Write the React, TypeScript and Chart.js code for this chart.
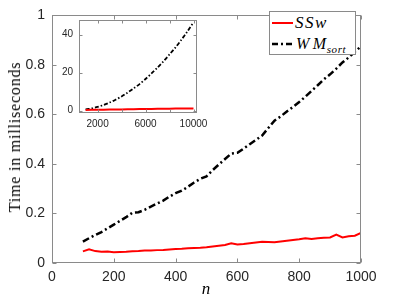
import React, { useEffect, useRef } from 'react';
import { Chart, registerables } from 'chart.js';
Chart.register(...registerables);

// ---- main plot data ----
const mainN = [100,120,140,160,180,200,220,240,260,280,300,320,340,360,380,400,420,440,460,480,500,520,540,560,580,600,620,640,660,680,700,720,740,760,780,800,820,840,860,880,900,920,940,960,980,1000];
const mainSSw = [0.047,0.055,0.048,0.045,0.046,0.043,0.044,0.045,0.047,0.048,0.050,0.050,0.052,0.053,0.055,0.057,0.058,0.060,0.061,0.062,0.064,0.067,0.070,0.073,0.080,0.075,0.077,0.080,0.083,0.086,0.085,0.084,0.087,0.090,0.093,0.096,0.100,0.097,0.100,0.102,0.103,0.115,0.103,0.108,0.110,0.122];
const mainWMsort = [0.086,0.100,0.113,0.125,0.140,0.155,0.170,0.185,0.203,0.205,0.215,0.228,0.240,0.252,0.268,0.282,0.292,0.308,0.325,0.340,0.350,0.375,0.398,0.420,0.442,0.445,0.462,0.480,0.497,0.515,0.545,0.575,0.592,0.612,0.630,0.650,0.672,0.695,0.718,0.742,0.762,0.785,0.810,0.830,0.853,0.875];
const mainXTicks = [0, 200, 400, 600, 800, 1000];
const mainYTicks = [0, 0.2, 0.4, 0.6, 0.8, 1];

// ---- inset data ----
const insetN = [1000,1500,2000,2500,3000,3500,4000,4500,5000,5500,6000,6500,7000,7500,8000,8500,9000,9500,10000];
const insetSSw = [0.4,0.45,0.5,0.55,0.6,0.65,0.7,0.75,0.8,0.85,0.9,0.95,1.0,1.05,1.1,1.12,1.15,1.18,1.2];
const insetWMsort = [0.7,1.2,2.0,3.0,4.3,5.8,7.5,9.5,11.7,14.0,16.7,19.6,22.7,26.0,29.6,33.3,37.4,41.8,46.4];
const insetXTicks = [2000, 4000, 6000, 8000, 10000];
const insetXLabels = ['2000', '', '6000', '', '10000'];
const insetYTicks = [0, 20, 40];

const FRAME = '#8a8a8a';
const TICKTXT = '#262626';

const framePlugin = {
  id: 'frame',
  beforeDatasetsDraw(chart: any, _a: any, opts: any) {
    if (!opts.fill) return;
    const { ctx, chartArea: a } = chart;
    ctx.save();
    ctx.fillStyle = opts.fill;
    ctx.fillRect(a.left, a.top, a.right - a.left, a.bottom - a.top);
    ctx.restore();
  },
  afterDraw(chart: any, _a: any, opts: any) {
    const { ctx, chartArea: a, scales } = chart;
    const L = opts.tick || 4;
    ctx.save();
    ctx.strokeStyle = FRAME;
    ctx.lineWidth = 1;
    const l = Math.round(a.left) + 0.5, r = Math.round(a.right) - 0.5;
    const t = Math.round(a.top) + 0.5, b = Math.round(a.bottom) - 0.5;
    ctx.strokeRect(l, t, r - l, b - t);
    ctx.beginPath();
    scales.x.ticks.forEach((tk: any) => {
      const px = Math.round(scales.x.getPixelForValue(tk.value)) + 0.5;
      ctx.moveTo(px, b); ctx.lineTo(px, b - L);
      ctx.moveTo(px, t); ctx.lineTo(px, t + L);
    });
    scales.y.ticks.forEach((tk: any) => {
      const py = Math.round(scales.y.getPixelForValue(tk.value)) + 0.5;
      ctx.moveTo(l, py); ctx.lineTo(l + L, py);
      ctx.moveTo(r, py); ctx.lineTo(r - L, py);
    });
    ctx.stroke();
    ctx.restore();
  },
};

function pts(xs: number[], ys: number[]) {
  return xs.map((x, i) => ({ x, y: ys[i] }));
}

function MainChart() {
  const ref = useRef<HTMLCanvasElement>(null);
  useEffect(() => {
    const chart = new Chart(ref.current!, {
      type: 'line',
      data: {
        datasets: [
          { label: 'SSw', data: pts(mainN, mainSSw), borderColor: '#ff0000', borderWidth: 2, pointRadius: 0, fill: false, tension: 0 },
          { label: 'WMsort', data: pts(mainN, mainWMsort), borderColor: '#000000', borderWidth: 2.5, borderDash: [7, 3, 2, 3], pointRadius: 0, fill: false, tension: 0 },
        ],
      },
      options: {
        animation: false,
        responsive: false,
        devicePixelRatio: 1,
        layout: { padding: { top: 8, right: 38, bottom: 0, left: 0 } },
        plugins: { legend: { display: false }, tooltip: { enabled: false }, frame: { tick: 4 } } as any,
        scales: {
          x: {
            type: 'linear', min: 0, max: 1000,
            grid: { display: false, drawTicks: false }, border: { display: false },
            afterFit: (s: any) => { s.height = 36; },
            afterBuildTicks: (s: any) => { s.ticks = mainXTicks.map((v) => ({ value: v })); },
            ticks: { padding: 6, color: TICKTXT, font: { family: 'Liberation Sans', size: 14 }, maxRotation: 0, callback: (v: any) => String(v) },
          },
          y: {
            type: 'linear', min: 0, max: 1,
            grid: { display: false, drawTicks: false }, border: { display: false },
            afterFit: (s: any) => { s.width = 52; },
            afterBuildTicks: (s: any) => { s.ticks = mainYTicks.map((v) => ({ value: v })); },
            ticks: { padding: 7, color: TICKTXT, font: { family: 'Liberation Sans', size: 14 }, callback: (v: any) => String(v) },
          },
        },
      },
      plugins: [framePlugin],
    });
    return () => chart.destroy();
  }, []);
  return <canvas ref={ref} width={399} height={299} style={{ position: 'absolute', left: 0, top: 0, width: 399, height: 299 }} />;
}

function InsetChart() {
  const ref = useRef<HTMLCanvasElement>(null);
  useEffect(() => {
    const chart = new Chart(ref.current!, {
      type: 'line',
      data: {
        datasets: [
          { label: 'SSw', data: pts(insetN, insetSSw), borderColor: '#ff0000', borderWidth: 2, pointRadius: 0, fill: false, tension: 0 },
          { label: 'WMsort', data: pts(insetN, insetWMsort), borderColor: '#000000', borderWidth: 1.8, borderDash: [4, 2, 1.5, 2], pointRadius: 0, fill: false, tension: 0.3 },
        ],
      },
      options: {
        animation: false,
        responsive: false,
        devicePixelRatio: 1,
        layout: { padding: { top: 10, right: 18.5, bottom: 0, left: 0 } },
        plugins: { legend: { display: false }, tooltip: { enabled: false }, frame: { tick: 3, fill: '#ffffff' } } as any,
        scales: {
          x: {
            type: 'linear', min: 450, max: 10250,
            grid: { display: false, drawTicks: false }, border: { display: false },
            afterFit: (s: any) => { s.height = 23; },
            afterBuildTicks: (s: any) => { s.ticks = insetXTicks.map((v) => ({ value: v })); },
            ticks: { padding: 5, color: TICKTXT, font: { family: 'Liberation Sans', size: 10 }, maxRotation: 0, autoSkip: false, callback: (_v: any, i: number) => insetXLabels[i] },
          },
          y: {
            type: 'linear', min: -1.2, max: 47.7,
            grid: { display: false, drawTicks: false }, border: { display: false },
            afterFit: (s: any) => { s.width = 29; },
            afterBuildTicks: (s: any) => { s.ticks = insetYTicks.map((v) => ({ value: v })); },
            ticks: { padding: 6, color: TICKTXT, font: { family: 'Liberation Sans', size: 10 }, callback: (v: any) => String(v) },
          },
        },
      },
      plugins: [framePlugin],
    });
    return () => chart.destroy();
  }, []);
  return <canvas ref={ref} width={165} height={128} style={{ position: 'absolute', left: 50, top: 8, width: 165, height: 128 }} />;
}

function Legend() {
  const serif: React.CSSProperties = { fontFamily: 'Liberation Serif', fontStyle: 'italic', fontSize: 16, position: 'absolute', lineHeight: '16px', whiteSpace: 'nowrap', color: '#000' };
  return (
    <div style={{ position: 'absolute', left: 269, top: 11, width: 87, height: 44, boxSizing: 'border-box', border: `1px solid ${FRAME}`, background: '#fff' }}>
      <svg width={87} height={44} style={{ position: 'absolute', left: -1, top: -1 }}>
        <line x1={3} y1={12} x2={24} y2={12} stroke="#ff0000" strokeWidth={2} />
        <line x1={3} y1={33} x2={24} y2={33} stroke="#000" strokeWidth={2.5} strokeDasharray="6 3 2 3" />
      </svg>
      <span style={{ ...serif, left: 25, top: 3, fontSize: 17, letterSpacing: 1.5 }}>SSw</span>
      <span style={{ ...serif, left: 26, top: 24, letterSpacing: 0.5 }}>W<span style={{ marginLeft: 3 }}>M</span><span style={{ fontSize: 11, position: 'relative', top: 4, letterSpacing: 0.6 }}>sort</span></span>
    </div>
  );
}

export default function App() {
  return (
    <div style={{ position: 'fixed', left: 0, top: 0, width: 399, height: 299, background: '#fff', overflow: 'hidden' }}>
      <MainChart />
      <InsetChart />
      <Legend />
      <div style={{ position: 'absolute', left: 15, top: 137, transform: 'translate(-50%, -50%) rotate(-90deg)', fontFamily: 'Liberation Serif', fontSize: 16, letterSpacing: 0.8, whiteSpace: 'nowrap', color: '#000' }}>Time in milliseconds</div>
      <div style={{ position: 'absolute', left: 206, top: 289, transform: 'translate(-50%, -50%)', fontFamily: 'Liberation Serif', fontStyle: 'italic', fontSize: 17, color: '#000' }}>n</div>
    </div>
  );
}
